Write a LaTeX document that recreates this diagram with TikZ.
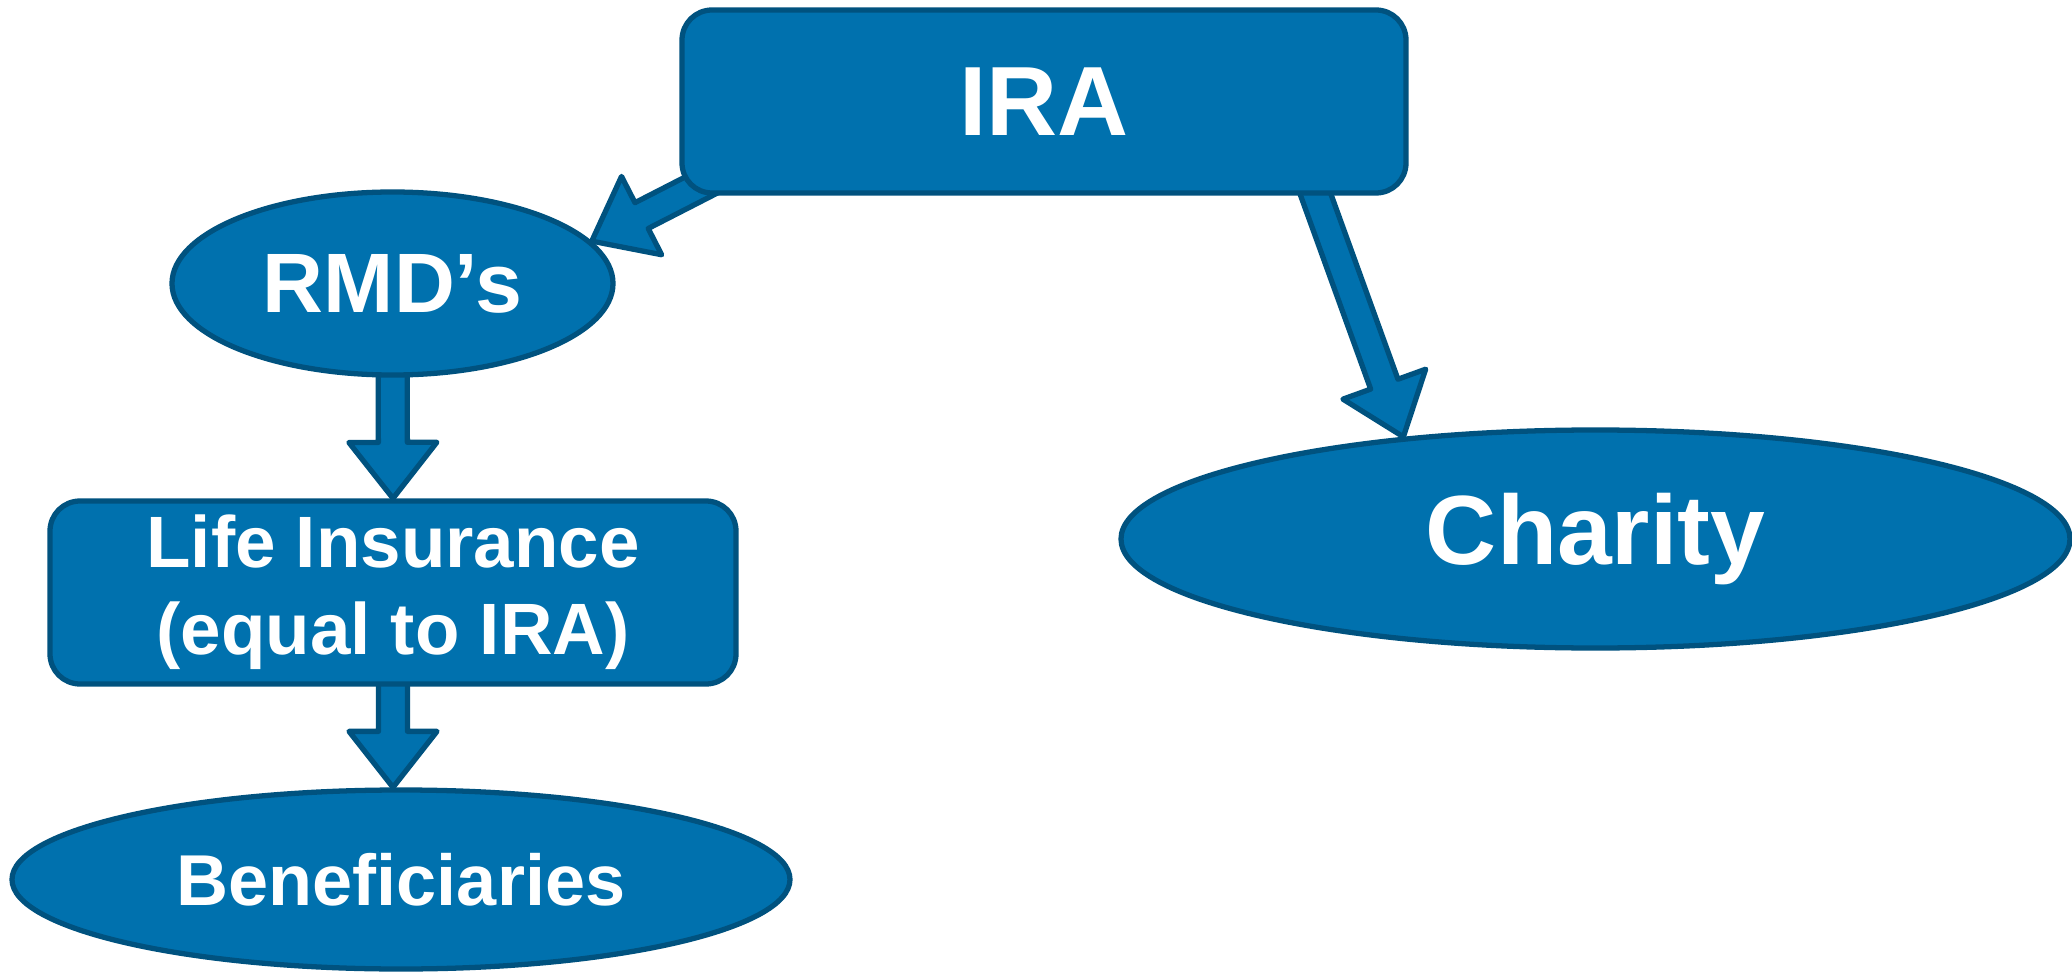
\documentclass[tikz,border=0pt]{standalone}
\usepackage{fontspec}
\setmainfont{Liberation Sans}
\usetikzlibrary{calc,shapes.geometric,backgrounds}

\definecolor{planfill}{HTML}{0071AE}
\definecolor{planline}{HTML}{00527F}

% fat arrow from #1 to #2 (tip at #2)
\newcommand{\blockarrow}[2]{%
  \path (#1) coordinate (ba-s) (#2) coordinate (ba-t);
  \path ($(ba-t)!0.56cm!(ba-s)$) coordinate (ba-h);
  \draw[arrowbody] ($(ba-s)!0.145cm!90:(ba-t)$) -- ($(ba-h)!0.145cm!-90:(ba-s)$)
    -- ($(ba-h)!0.44cm!-90:(ba-s)$) -- (ba-t) -- ($(ba-h)!0.44cm!90:(ba-s)$)
    -- ($(ba-h)!0.145cm!90:(ba-s)$) -- ($(ba-s)!0.145cm!-90:(ba-t)$) -- cycle;
}

\begin{document}
\begin{tikzpicture}[
    box/.style={draw=planline, fill=planfill, line width=1.5pt, rounded corners=0.3cm,
                text=white, font=\bfseries, inner sep=0pt, align=center},
    oval/.style={ellipse, draw=planline, fill=planfill, line width=1.5pt,
                 text=white, font=\bfseries, inner sep=0pt},
    arrowbody/.style={draw=planline, fill=planfill, line width=1.5pt, line join=round}
]
\useasboundingbox (0,0) rectangle (20.72,9.72);

    \node[box, minimum width=7.24cm, minimum height=1.83cm, font=\bfseries\fontsize{28}{34}\selectfont] (ira) at (10.44,8.705) {IRA};
    \node[oval, minimum width=4.41cm, minimum height=1.83cm, font=\bfseries\fontsize{24}{29}\selectfont] (rmd) at (3.925,6.885) {RMD’s};
    \node[box, minimum width=6.86cm, minimum height=1.83cm, font=\bfseries\fontsize{20.7}{24.8}\selectfont] (life) at (3.93,3.795) {Life Insurance\\(equal to IRA)};
    \node[oval, minimum width=7.78cm, minimum height=1.79cm, font=\bfseries\fontsize{20.5}{25}\selectfont] (ben) at (4.01,0.925) {Beneficiaries};
    \node[oval, minimum width=9.49cm, minimum height=2.18cm, font=\bfseries\fontsize{28}{34}\selectfont] (charity) at (15.955,4.33) {Charity};

\begin{scope}[on background layer]
\blockarrow{$(ira.south west)+(0.48,0.24)$}{rmd.12}
\blockarrow{$(ira.south)+(2.63,0.25)$}{charity.152}
\blockarrow{rmd.center}{life.north}
\blockarrow{life.center}{life.south |- ben.north}
\end{scope}
\end{tikzpicture}
\end{document}
